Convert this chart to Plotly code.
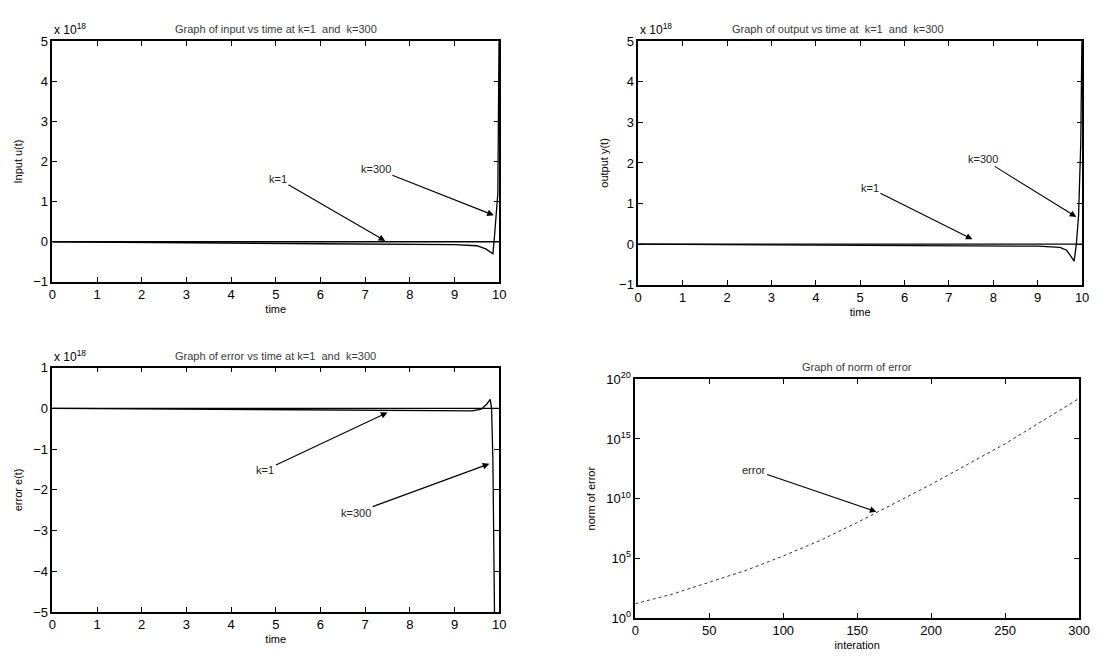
import math
import plotly.graph_objects as go

# ---- data (amplitudes in units of 1e18) ----
# input u(t)
t_u_k1 = [0, 2, 4, 6, 8, 9, 9.5, 9.9, 10.0]
u_k1 = [0, 0, 0, 0, 0, 0, 0, 0, 0]
t_u_k300 = [0, 3, 6, 9, 9.5, 9.7, 9.8, 9.86, 9.9, 9.94, 9.97, 10.0]
u_k300 = [0, -0.03, -0.05, -0.07, -0.1, -0.18, -0.26, -0.3, 0.2, 0.7, 1.2, 5.5]

# output y(t)
t_y_k1 = [0, 2, 4, 6, 8, 9, 9.5, 9.9, 10.0]
y_k1 = [0, 0, 0, 0, 0, 0, 0, 0, 0]
t_y_k300 = [0, 3, 6, 9, 9.5, 9.65, 9.75, 9.82, 9.87, 9.92, 9.97, 10.0]
y_k300 = [0, -0.02, -0.03, -0.05, -0.08, -0.15, -0.3, -0.42, 0.0, 0.7, 2.5, 5.5]

# error e(t)
t_e_k1 = [0, 2, 4, 6, 8, 9, 9.5, 9.9, 10.0]
e_k1 = [0, 0, 0, 0, 0, 0, 0, 0, 0]
t_e_k300 = [0, 3, 6, 9, 9.4, 9.6, 9.72, 9.8, 9.83, 9.86, 9.9, 10.0]
e_k300 = [0, -0.02, -0.04, -0.06, -0.06, -0.02, 0.1, 0.22, 0.0, -1.3, -5.5, -6.0]

# norm of error per iteration
iterations = [0, 25, 50, 75, 100, 125, 150, 175, 200, 225, 250, 275, 300]
log_norm = [1.2, 2.0, 3.0, 4.0, 5.2, 6.5, 8.0, 9.6, 11.2, 12.9, 14.6, 16.5, 18.4]
norm_err = [10 ** v for v in log_norm]

time_ticks = list(range(0, 11))
font_family = "Liberation Sans, Arial, sans-serif"
black = "#000000"
grey_text = "#3a3a3a"

fig = go.Figure()

line_style = dict(color=black, width=1.3)
fig.add_trace(go.Scatter(x=t_u_k1, y=u_k1, mode="lines", line=line_style, xaxis="x", yaxis="y"))
fig.add_trace(go.Scatter(x=t_u_k300, y=u_k300, mode="lines", line=line_style, xaxis="x", yaxis="y"))
fig.add_trace(go.Scatter(x=t_y_k1, y=y_k1, mode="lines", line=line_style, xaxis="x2", yaxis="y2"))
fig.add_trace(go.Scatter(x=t_y_k300, y=y_k300, mode="lines", line=line_style, xaxis="x2", yaxis="y2"))
fig.add_trace(go.Scatter(x=t_e_k1, y=e_k1, mode="lines", line=line_style, xaxis="x3", yaxis="y3"))
fig.add_trace(go.Scatter(x=t_e_k300, y=e_k300, mode="lines", line=line_style, xaxis="x3", yaxis="y3"))
fig.add_trace(go.Scatter(x=iterations, y=norm_err, mode="lines",
                         line=dict(color="#333333", width=1.0, dash="dot"),
                         xaxis="x4", yaxis="y4"))


def axis_common():
    return dict(
        showline=True, linecolor=black, linewidth=1.5, mirror="ticks",
        ticks="inside", ticklen=5, tickwidth=1.2, tickcolor=black,
        showgrid=False, zeroline=False,
        tickfont=dict(family=font_family, size=13, color=black),
        title_font=dict(family=font_family, size=11, color=black),
    )


dom_left = [0.0444, 0.4547]
dom_right_top = [0.5824, 0.9900]
dom_right_bot = [0.5797, 0.9873]

layout = dict(
    width=1104, height=664,
    margin=dict(l=0, r=0, t=0, b=0),
    paper_bgcolor="white", plot_bgcolor="white",
    showlegend=False,
    font=dict(family=font_family, color=black),
)

# top-left: input
layout["xaxis"] = dict(axis_common(), domain=dom_left, anchor="y", range=[0, 10],
                       tickvals=time_ticks, title=dict(text="time", standoff=4))
layout["yaxis"] = dict(axis_common(), domain=[0.5783, 0.9503], anchor="x", range=[-1, 5],
                       tickvals=[-1, 0, 1, 2, 3, 4, 5], title=dict(text="Input u(t)", standoff=8))
# top-right: output
layout["xaxis2"] = dict(axis_common(), domain=dom_right_top, anchor="y2", range=[0, 10],
                        tickvals=time_ticks, title=dict(text="time", standoff=4))
layout["yaxis2"] = dict(axis_common(), domain=[0.5738, 0.9503], anchor="x2", range=[-1, 5],
                        tickvals=[-1, 0, 1, 2, 3, 4, 5], title=dict(text="output y(t)", standoff=8))
# bottom-left: error
layout["xaxis3"] = dict(axis_common(), domain=dom_left, anchor="y3", range=[0, 10],
                        tickvals=time_ticks, title=dict(text="time", standoff=4))
layout["yaxis3"] = dict(axis_common(), domain=[0.0678, 0.4458], anchor="x3", range=[-5, 1],
                        tickvals=[-5, -4, -3, -2, -1, 0, 1], title=dict(text="error e(t)", standoff=8))
# bottom-right: norm of error (log)
layout["xaxis4"] = dict(axis_common(), domain=dom_right_bot, anchor="y4", range=[0, 300],
                        tickvals=[0, 50, 100, 150, 200, 250, 300],
                        title=dict(text="interation", standoff=4))
layout["yaxis4"] = dict(axis_common(), domain=[0.0587, 0.4277], anchor="x4", type="log",
                        range=[0, 20], tickvals=[1, 1e5, 1e10, 1e15, 1e20],
                        ticktext=["10<sup>0</sup>", "10<sup>5</sup>", "10<sup>10</sup>",
                                  "10<sup>15</sup>", "10<sup>20</sup>"],
                        title=dict(text="norm of error", standoff=8))

fig.update_layout(**layout)

title_font = dict(family=font_family, size=11, color=grey_text)
titles = [
    ("Graph of input vs time at k=1  and  k=300", sum(dom_left) / 2, 0.9503),
    ("Graph of output vs time at  k=1  and  k=300", sum(dom_right_top) / 2 - 0.02, 0.9503),
    ("Graph of error vs time at k=1  and  k=300", sum(dom_left) / 2, 0.4458),
    ("Graph of norm of error", sum(dom_right_bot) / 2, 0.4277),
]
for text, xc, ytop in titles:
    fig.add_annotation(text=text, xref="paper", yref="paper", x=xc, y=ytop,
                       xanchor="center", yanchor="bottom", yshift=4, showarrow=False,
                       font=title_font)

# exponent labels for the linear axes
for xl, ytop in [(dom_left[0], 0.9503), (dom_right_top[0], 0.9503), (dom_left[0], 0.4458)]:
    fig.add_annotation(text="x 10<sup>18</sup>", xref="paper", yref="paper", x=xl, y=ytop,
                       xanchor="left", yanchor="bottom", yshift=2, showarrow=False,
                       font=dict(family=font_family, size=12, color=black))

arrow_font = dict(family=font_family, size=11, color="#222222")


def arrow(xr, yr, text, tail, head, log=False):
    hx, hy = head
    tx, ty = tail
    if log:
        hy = math.log10(hy)
        ty = math.log10(ty)
    fig.add_annotation(x=hx, y=hy, ax=tx, ay=ty, xref=xr, yref=yr, axref=xr, ayref=yr,
                       text=text, showarrow=True, arrowhead=2, arrowsize=1.2,
                       arrowwidth=1.1, arrowcolor=black, standoff=0, startstandoff=0,
                       font=arrow_font)


arrow("x", "y", "k=1", (5.05, 1.57), (7.45, 0.02))
arrow("x", "y", "k=300", (7.24, 1.82), (9.88, 0.66))
arrow("x2", "y2", "k=1", (5.22, 1.38), (7.53, 0.12))
arrow("x2", "y2", "k=300", (7.76, 2.1), (9.87, 0.67))
arrow("x3", "y3", "k=1", (4.77, -1.51), (7.5, -0.1))
arrow("x3", "y3", "k=300", (6.8, -2.56), (9.78, -1.36))
arrow("x4", "y4", "error", (80, 10 ** 12.4), (163, 10 ** 8.9), log=True)

fig.write_html("out.html")
